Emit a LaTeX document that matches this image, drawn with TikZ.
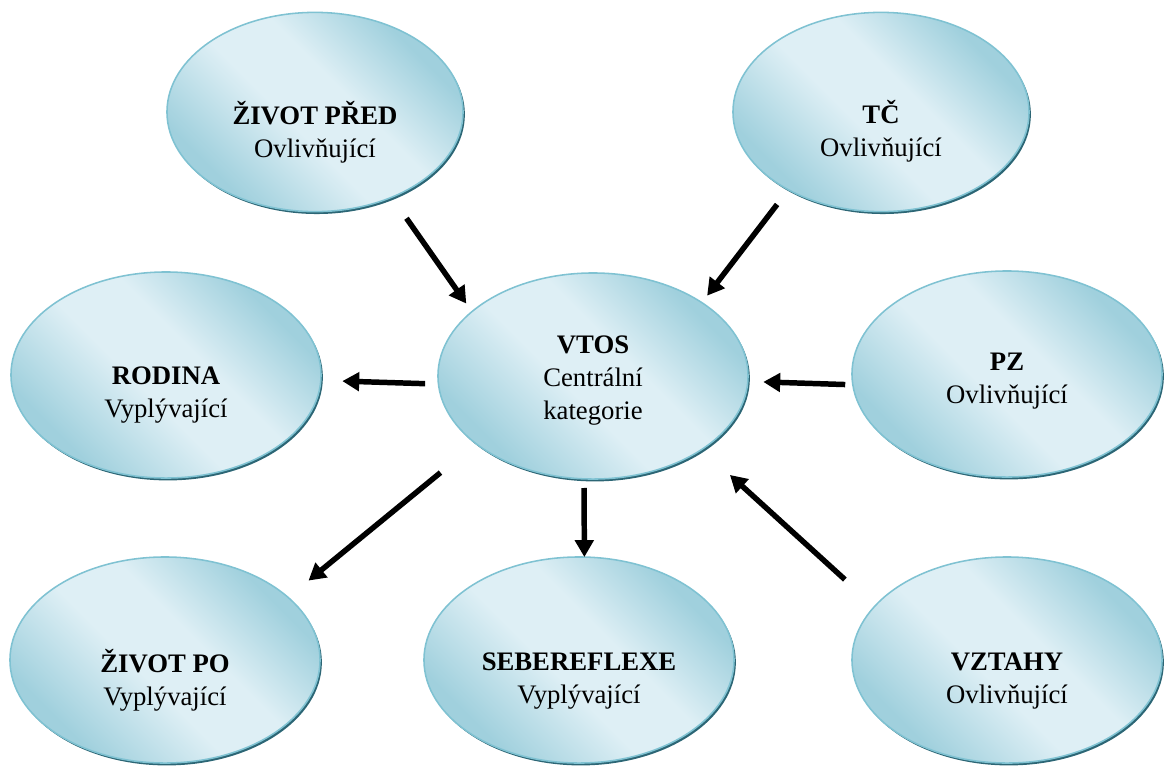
\documentclass[tikz,border=0pt]{standalone}
\usepackage{fontspec}
\setmainfont{Liberation Serif}
\usepackage{tikz}
\usetikzlibrary{shadows}
\usetikzlibrary{positioning}
\usetikzlibrary{arrows.meta,shapes.geometric}
\usetikzlibrary{calc}

\definecolor{bubbledark}{HTML}{A0D0DD}
\definecolor{bubblelight}{HTML}{DEEFF5}
\definecolor{bubbleedge}{HTML}{7FC2D2}
\definecolor{bubbleshadow}{HTML}{2C6675}
\pgfdeclareverticalshading{bubbleshade}{100bp}{color(0bp)=(bubbledark); color(27bp)=(bubbledark);
  color(45bp)=(bubblelight); color(57bp)=(bubblelight); color(73bp)=(bubbledark); color(100bp)=(bubbledark)}

\begin{document}
\begin{tikzpicture}
  [x=0.025cm,y=-0.025cm,
  bubble/.style={ellipse,draw=bubbleedge,line width=1.1pt,outer sep=0pt,
    minimum width=7.75cm,minimum height=5.15cm,
    shade,shading=bubbleshade,shading angle=-45,
    drop shadow={shadow xshift=1.3pt,shadow yshift=-1.7pt,fill=bubbleshadow,opacity=1}},
  smallbubble/.style={bubble,minimum width=7.4cm,minimum height=4.98cm},
  txt/.style={align=center,font=\fontsize{19}{23.5}\selectfont},
  arr/.style={-{Triangle[length=12pt,width=13pt]},line width=3.9pt}]
  \useasboundingbox (0,0) rectangle (1164,765);

  \node[smallbubble,label={[txt,yshift=-14.5pt]center:{\textbf{ŽIVOT PŘED}\\Ovlivňující}}] (zpred) at (315,112) {};
  \node[smallbubble,label={[txt,yshift=-14pt]center:{\textbf{TČ}\\Ovlivňující}}] (tc) at (881,112) {};

  \node[bubble,label={[txt,yshift=-14.5pt]center:{\textbf{RODINA}\\Vyplývající}}] (rodina) at (166,375) {};
  \node[bubble,label={[txt,yshift=-3.5pt]center:{\textbf{VTOS}\\Centrální\\kategorie}}] (vtos) at (593,376) {};
  \node[bubble,label={[txt,yshift=-5pt]center:{\textbf{PZ}\\Ovlivňující}}] (pz) at (1007,374) {};

  \node[bubble,label={[txt,yshift=-14.5pt]center:{\textbf{ŽIVOT PO}\\Vyplývající}}] (zpo) at (165,660) {};
  \node[bubble,label={[txt,yshift=-15pt]center:{\textbf{SEBEREFLEXE}\\Vyplývající}}] (seb) at (579,660) {};
  \node[bubble,label={[txt,yshift=-15pt]center:{\textbf{VZTAHY}\\Ovlivňující}}] (vztahy) at (1007,660) {};

  % ovlivnujici -> centralni
  \draw [arr,shorten <=18.3pt,shorten >=7pt] (zpred.-48) -- (vtos.152.5);
  \draw [arr,shorten <=13.2pt,shorten >=6.2pt] (tc.-140) -- (vtos.34.3);
  \draw [arr,shorten <=5.4pt,shorten >=11pt] (pz.-176.7) -- (vtos.-2.6);
  \draw [arr,shorten <=28.5pt,shorten >=27pt] (vztahy.158.1) -- (vtos.-34.3);

  % centralni -> vyplyvajici
  \draw [arr,shorten <=9.5pt,shorten >=15.3pt] (vtos.-177.4) -- (rodina.-2.9);
  \draw [arr,shorten <=32.6pt,shorten >=18.8pt] (vtos.-150.5) -- (zpo.27.5);
  \draw [arr,shorten <=6.5pt] (vtos.-95.5) -- (seb.87.8);
\end{tikzpicture}
\end{document}
